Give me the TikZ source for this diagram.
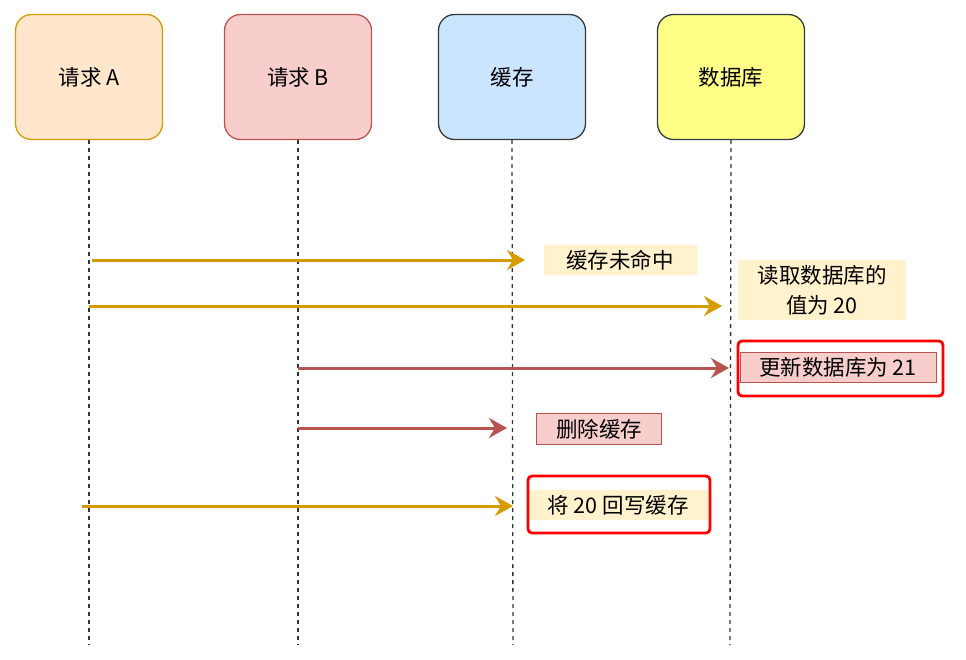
\documentclass[tikz,border=0pt]{standalone}
\usepackage{fontspec}
\setmainfont{Noto Sans CJK SC}
\usetikzlibrary{arrows.meta}
\definecolor{orangeline}{HTML}{D79B00}
\definecolor{orangefill}{HTML}{FFE6CC}
\definecolor{redline}{HTML}{B85450}
\definecolor{redfill}{HTML}{F8CECC}
\definecolor{bluefill}{HTML}{CCE5FF}
\definecolor{yellowfill}{HTML}{FFFF88}
\definecolor{darkline}{HTML}{36393D}
\definecolor{notefill}{HTML}{FFF2CC}
\begin{document}
\begin{tikzpicture}[x=1pt, y=-1pt,
	actor/.style={rounded corners=16pt, minimum width=147pt, minimum height=125pt, line width=1.3pt, font=\fontsize{21.5}{26}\selectfont},
	life/.style={dash pattern=on 4pt off 4pt, line width=1.3pt, black!80},
	msgA/.style={orangeline, line width=3pt, -{Stealth[length=18pt, width=20pt, inset=6pt]}},
	msgB/.style={redline, line width=3pt, -{Stealth[length=18pt, width=20pt, inset=6pt]}},
	note/.style={fill=notefill, inner sep=0pt, align=center, font=\fontsize{21.5}{30}\selectfont},
	highlight/.style={draw=red, line width=2.8pt, rounded corners=4pt}]
	\useasboundingbox (0,0) rectangle (966,659);

	\node[actor, draw=orangeline, fill=orangefill] (reqA) at (89,77) {请求 A};
	\node[actor, draw=redline, fill=redfill] (reqB) at (298,77) {请求 B};
	\node[actor, draw=darkline, fill=bluefill] (cache) at (512,77) {缓存};
	\node[actor, draw=darkline, fill=yellowfill] (db) at (731,77) {数据库};

	% lifelines
	\coordinate (endA) at (89,645);
	\coordinate (endB) at (298,645);
	\coordinate (endC) at (513,645);
	\coordinate (endD) at (730,645);
	\draw[life] (reqA.south) -- (endA);
	\draw[life] (reqB.south) -- (endB);
	\draw[life] (cache.south) -- (endC);
	\draw[life] (db.south) -- (endD);

	% messages
	\coordinate (s1) at (92,260);  \coordinate (e1) at (525,260);
	\coordinate (s2) at (89,306);  \coordinate (e2) at (722,306);
	\coordinate (s3) at (298,368); \coordinate (e3) at (729,368);
	\coordinate (s4) at (298,428); \coordinate (e4) at (507,428);
	\coordinate (s5) at (82,506);  \coordinate (e5) at (513,506);
	\draw[msgA] (s1) -- (e1);
	\draw[msgA] (s2) -- (e2);
	\draw[msgB] (s3) -- (e3);
	\draw[msgB] (s4) -- (e4);
	\draw[msgA] (s5) -- (e5);

	% labels
	\node[note, minimum width=153pt, minimum height=30pt] (miss) at (620,260) {缓存未命中};
	\node[note, minimum width=168pt, minimum height=60pt] (read) at (822,290) {读取数据库的\\值为 20};
	\node[note, fill=redfill, draw=redline, line width=1pt, minimum width=196pt, minimum height=30pt] (upd) at (838,367) {更新数据库为 21};
	\node[note, fill=redfill, draw=redline, line width=1pt, minimum width=125pt, minimum height=31pt] (del) at (599,429) {删除缓存};
	\node[note, minimum width=180pt, minimum height=30pt] (back) at (618,505) {将 20 回写缓存};

	% highlights
	\draw[highlight] (738,341) rectangle (943,396);
	\draw[highlight] (528,476) rectangle (710,533);
\end{tikzpicture}
\end{document}
